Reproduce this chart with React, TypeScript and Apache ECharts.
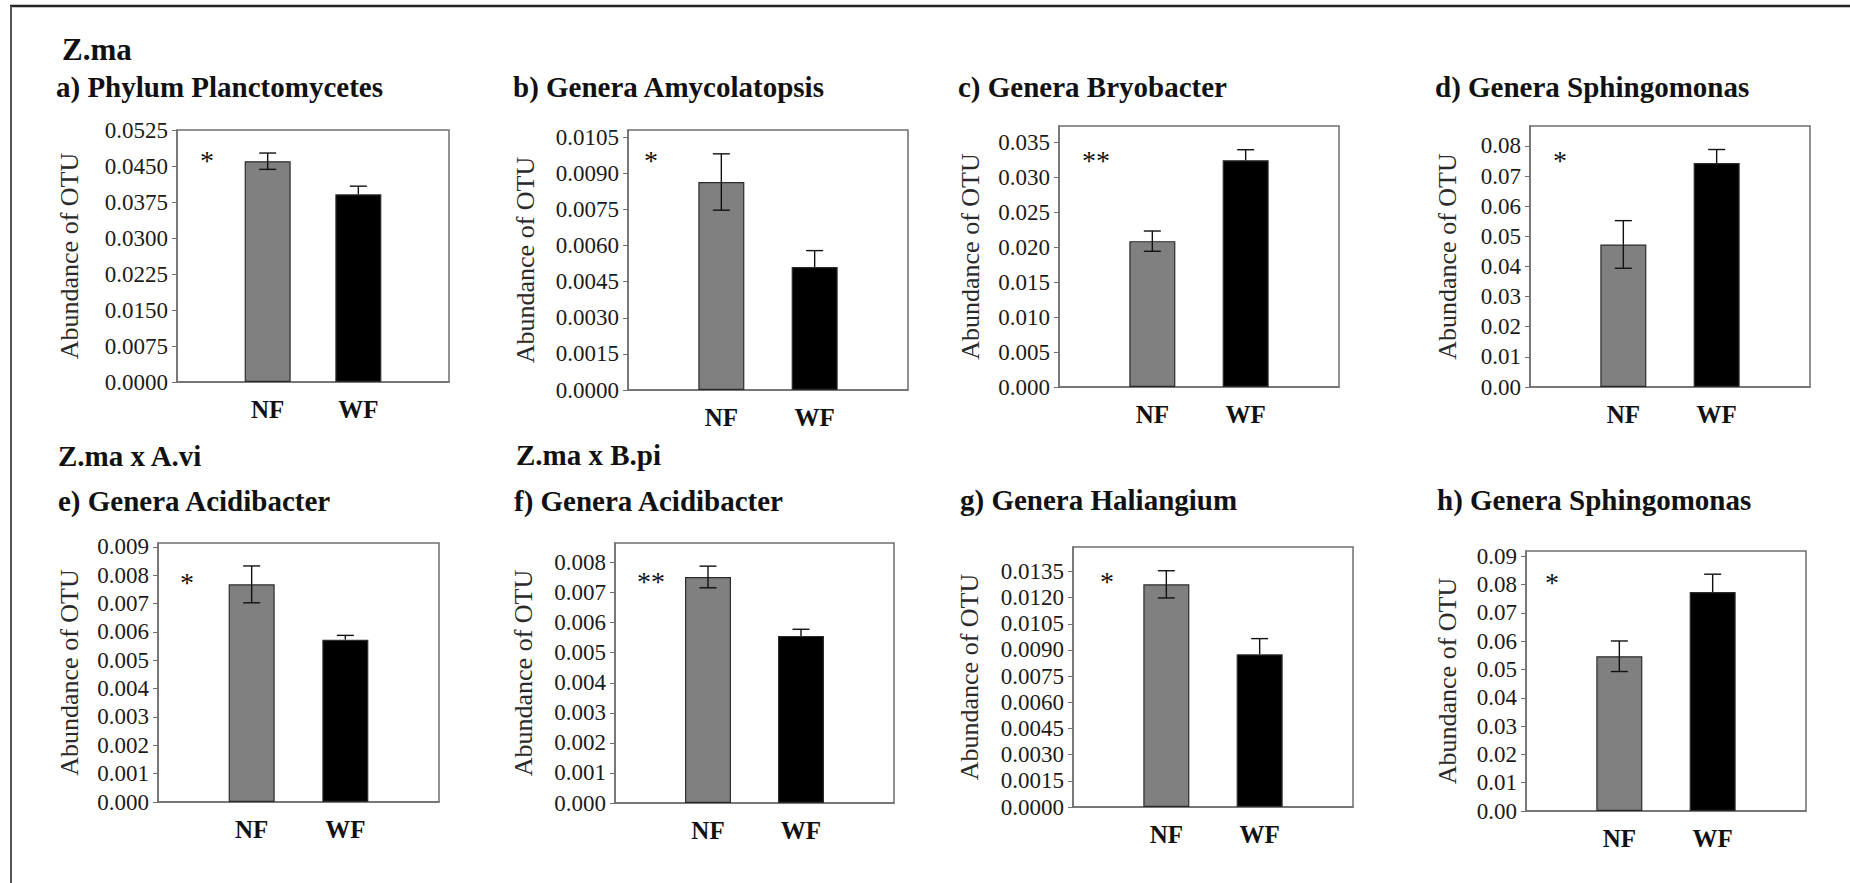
import React, { useEffect, useRef } from "react";
import * as echarts from "echarts";

// ---- data ----
const groups = ["NF", "WF"];
const groupHeadings = ["Z.ma", "Z.ma x A.vi", "Z.ma x B.pi"];
const yAxisName = "Abundance of OTU";

const panelTitles = [
  "a) Phylum Planctomycetes",
  "b) Genera Amycolatopsis",
  "c) Genera Bryobacter",
  "d) Genera Sphingomonas",
  "e) Genera Acidibacter",
  "f) Genera Acidibacter",
  "g) Genera Haliangium",
  "h) Genera Sphingomonas",
];

const nfMeans = [0.046, 0.00864, 0.0209, 0.0473, 0.00768, 0.00752, 0.01276, 0.0547];
const wfMeans = [0.0391, 0.00511, 0.0325, 0.0743, 0.00573, 0.00556, 0.00875, 0.0774];
const nfErrors = [0.0017, 0.00117, 0.00145, 0.0079, 0.00065, 0.00036, 0.00078, 0.0054];
const wfErrors = [0.0017, 0.00068, 0.0015, 0.0045, 0.00015, 0.00022, 0.0009, 0.0063];
const significance = ["*", "*", "**", "*", "*", "**", "*", "*"];
const axisMax = [0.0525, 0.0108, 0.0374, 0.0866, 0.00914, 0.00865, 0.0149, 0.0919];

const tickLabels: string[][] = [
  ["0.0000", "0.0075", "0.0150", "0.0225", "0.0300", "0.0375", "0.0450", "0.0525"],
  ["0.0000", "0.0015", "0.0030", "0.0045", "0.0060", "0.0075", "0.0090", "0.0105"],
  ["0.000", "0.005", "0.010", "0.015", "0.020", "0.025", "0.030", "0.035"],
  ["0.00", "0.01", "0.02", "0.03", "0.04", "0.05", "0.06", "0.07", "0.08"],
  ["0.000", "0.001", "0.002", "0.003", "0.004", "0.005", "0.006", "0.007", "0.008", "0.009"],
  ["0.000", "0.001", "0.002", "0.003", "0.004", "0.005", "0.006", "0.007", "0.008"],
  ["0.0000", "0.0015", "0.0030", "0.0045", "0.0060", "0.0075", "0.0090", "0.0105", "0.0120", "0.0135"],
  ["0.00", "0.01", "0.02", "0.03", "0.04", "0.05", "0.06", "0.07", "0.08", "0.09"],
];

// ---- layout (pixels) ----
const frames = [
  { left: 177, top: 130, width: 272, height: 252, nameGap: 108, star: [207, 160] },
  { left: 628, top: 130, width: 280, height: 260, nameGap: 103, star: [651, 160] },
  { left: 1059, top: 126, width: 280, height: 261, nameGap: 89, star: [1096, 160] },
  { left: 1530, top: 126, width: 280, height: 261, nameGap: 83, star: [1560, 160] },
  { left: 158, top: 543, width: 281, height: 259, nameGap: 89, star: [187, 582] },
  { left: 615, top: 543, width: 279, height: 260, nameGap: 92, star: [651, 581] },
  { left: 1073, top: 547, width: 280, height: 260, nameGap: 104, star: [1107, 581] },
  { left: 1526, top: 551, width: 280, height: 260, nameGap: 79, star: [1552, 582] },
];
const titleAnchors = [
  [56, 97], [513, 97], [958, 97], [1435, 97],
  [58, 511], [514, 511], [960, 510], [1437, 510],
];
const headingAnchors = [
  { x: 62, y: 60, size: 31 },
  { x: 58, y: 466, size: 29 },
  { x: 516, y: 465, size: 29 },
];

const SERIF = "'Liberation Serif', 'Times New Roman', Times, serif";
const NF_COLOR = "#808080";
const WF_COLOR = "#000000";

function textAtBaseline(text: string, x: number, baseline: number, size: number, weight: string) {
  return {
    type: "text",
    x,
    y: baseline - size * 0.34,
    silent: true,
    style: {
      text,
      fill: "#111",
      font: `${weight} ${size}px ${SERIF}`,
      align: "left",
      verticalAlign: "middle",
    },
  };
}

function buildOption() {
  const grid: any[] = [];
  const xAxis: any[] = [];
  const yAxis: any[] = [];
  const series: any[] = [];
  const graphic: any[] = [];

  frames.forEach((f, i) => {
    const tickValues = tickLabels[i].map((s) => parseFloat(s));
    grid.push({
      left: f.left,
      top: f.top,
      width: f.width,
      height: f.height,
      show: true,
      borderColor: "#6f6f6f",
      borderWidth: 1.5,
      backgroundColor: "#fff",
    });
    xAxis.push({
      type: "value",
      gridIndex: i,
      min: 0,
      max: groups.length + 1,
      interval: 1,
      axisLine: { show: true, lineStyle: { color: "#6f6f6f", width: 1.5 } },
      axisTick: { show: false },
      splitLine: { show: false },
      axisLabel: {
        customValues: groups.map((_, k) => k + 1),
        formatter: (v: number) => groups[Math.round(v) - 1] ?? "",
        fontFamily: SERIF,
        fontWeight: "bold",
        fontSize: 25,
        color: "#111",
        margin: 15,
      },
    });
    yAxis.push({
      type: "value",
      gridIndex: i,
      min: 0,
      max: axisMax[i],
      interval: tickValues[1] - tickValues[0],
      name: yAxisName,
      nameLocation: "middle",
      nameRotate: 90,
      nameGap: f.nameGap,
      nameTextStyle: {
        fontFamily: SERIF,
        fontSize: 26,
        color: "#2a2a2a",
        verticalAlign: "middle",
      },
      axisLine: { show: true, lineStyle: { color: "#6f6f6f", width: 1.5 } },
      axisTick: {
        show: true,
        length: 5,
        customValues: tickValues,
        lineStyle: { color: "#6f6f6f", width: 1 },
      },
      splitLine: { show: false },
      axisLabel: {
        customValues: tickValues,
        formatter: (v: number) => {
          const k = tickValues.findIndex((t) => Math.abs(t - v) < 1e-9);
          return k >= 0 ? tickLabels[i][k] : "";
        },
        fontFamily: SERIF,
        fontSize: 23,
        color: "#1a1a1a",
        margin: 9,
      },
    });

    const means = [nfMeans[i], wfMeans[i]];
    const errors = [nfErrors[i], wfErrors[i]];
    const colors = [NF_COLOR, WF_COLOR];

    series.push({
      type: "bar",
      xAxisIndex: i,
      yAxisIndex: i,
      barWidth: 46,
      z: 2,
      data: means.map((m, k) => ({
        value: [k + 1, m],
        itemStyle: { color: colors[k], borderColor: "#2b2b2b", borderWidth: 1.2 },
      })),
    });

    // error bars; the lower whisker is only drawn over the grey bar
    series.push({
      type: "custom",
      xAxisIndex: i,
      yAxisIndex: i,
      z: 3,
      data: means.map((m, k) => [k + 1, m, errors[k]]),
      renderItem: (params: any, api: any) => {
        const x = api.value(0);
        const m = api.value(1);
        const e = api.value(2);
        const showLower = params.dataIndex === 0;
        const hi = api.coord([x, m + e]);
        const mid = api.coord([x, m]);
        const lo = api.coord([x, m - e]);
        const cap = 8.5;
        const stroke = { stroke: "#111", lineWidth: 1.4 };
        const children: any[] = [
          { type: "line", shape: { x1: hi[0], y1: hi[1], x2: mid[0], y2: mid[1] }, style: stroke },
          { type: "line", shape: { x1: hi[0] - cap, y1: hi[1], x2: hi[0] + cap, y2: hi[1] }, style: stroke },
        ];
        if (showLower) {
          children.push(
            { type: "line", shape: { x1: mid[0], y1: mid[1], x2: lo[0], y2: lo[1] }, style: stroke },
            { type: "line", shape: { x1: lo[0] - cap, y1: lo[1], x2: lo[0] + cap, y2: lo[1] }, style: stroke }
          );
        }
        return { type: "group", children };
      },
    });

    graphic.push({
      type: "text",
      x: f.star[0],
      y: f.star[1],
      silent: true,
      style: {
        text: significance[i],
        fill: "#111",
        font: `normal 28px ${SERIF}`,
        align: "center",
        verticalAlign: "middle",
      },
    });
    graphic.push(textAtBaseline(panelTitles[i], titleAnchors[i][0], titleAnchors[i][1], 29, "bold"));
  });

  headingAnchors.forEach((h, k) => {
    graphic.push(textAtBaseline(groupHeadings[k], h.x, h.y, h.size, "bold"));
  });

  // outer frame: rule across the top and down the left side
  graphic.push({
    type: "line",
    silent: true,
    shape: { x1: 10, y1: 6, x2: 1850, y2: 6 },
    style: { stroke: "#222", lineWidth: 2.5 },
  });
  graphic.push({
    type: "line",
    silent: true,
    shape: { x1: 11, y1: 6, x2: 11, y2: 883 },
    style: { stroke: "#555", lineWidth: 2 },
  });

  return {
    animation: false,
    backgroundColor: "#fff",
    grid,
    xAxis,
    yAxis,
    series,
    graphic,
  };
}

export default function App() {
  const ref = useRef<HTMLDivElement>(null);
  useEffect(() => {
    if (!ref.current) return;
    const chart = echarts.init(ref.current, undefined, { renderer: "svg" });
    chart.setOption(buildOption() as any);
    return () => chart.dispose();
  }, []);
  return (
    <div
      ref={ref}
      style={{ position: "absolute", left: 0, top: 0, width: 1850, height: 883 }}
    />
  );
}
